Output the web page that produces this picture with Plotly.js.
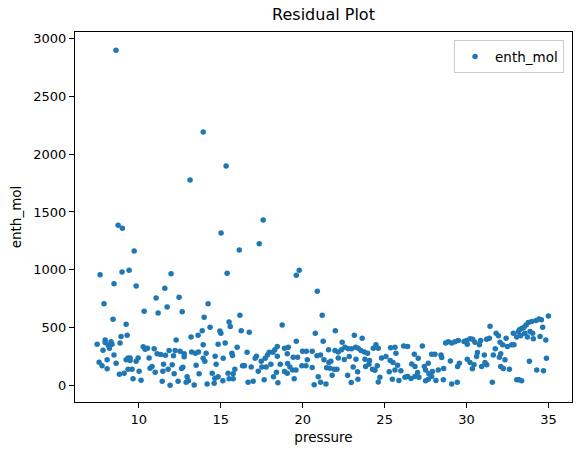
<!DOCTYPE html>
<html><head><meta charset="utf-8">
<script src="https://cdn.plot.ly/plotly-3.0.1.min.js"></script>
<style>html,body{margin:0;padding:0;background:#fff}</style>
</head><body><div id="chart" style="width:580px;height:455px"></div>
<script>
const seriesName = 'enth_mol';
const pressure = [
8.61,13.93,15.33,13.13,8.74,9.0,17.59,15.02,
9.72,7.64,8.98,9.41,11.97,8.49,9.84,11.59,11.06,12.46,7.88,11.73,10.33,11.18,12.65,13.99,8.43,9.23,
13.19,13.62,13.87,9.29,8.92,12.28,7.46,7.95,7.95,8.31,8.37,8.14,8.86,8.21,7.82,10.27,10.53,10.39,10.94,
11.12,11.34,11.63,11.85,12.12,12.22,12.52,12.77,12.77,13.22,13.46,13.64,13.50,13.93,13.93,8.49,8.07,
7.58,7.76,8.07,8.62,9.23,9.35,9.47,9.47,9.84,9.96,10.63,10.69,10.81,11.51,12.04,11.79,11.47,11.00,
12.16,12.61,12.69,12.95,13.03,12.89,12.40,13.38,13.68,9.35,9.59,10.02,8.82,9.11,9.65,10.14,11.43,11.91,
17.35,16.13,15.39,19.61,19.79,20.89,14.23,21.19,16.17,15.51,15.58,14.35,14.95,15.01,16.25,16.74,18.75,
19.61,20.77,21.25,14.84,15.27,16.00,14.11,14.03,14.66,15.15,15.68,15.72,14.72,16.61,17.10,17.18,17.47,
17.71,17.85,17.96,18.18,18.30,18.45,18.45,18.89,19.12,19.06,19.42,19.69,19.99,20.22,20.58,20.28,19.95,
20.20,20.58,20.87,21.09,21.30,21.46,21.58,21.60,16.33,16.45,16.86,17.29,17.51,17.77,18.06,18.63,19.08,
19.22,19.38,19.59,18.89,19.06,18.40,18.22,17.65,18.49,19.48,20.95,21.09,20.70,21.42,15.86,15.76,15.45,
15.51,15.76,15.13,14.84,14.64,14.48,14.60,14.17,16.67,16.98,
21.99,23.15,23.63,22.41,21.97,22.17,22.37,22.58,22.78,22.98,23.23,23.39,23.55,23.76,23.96,24.31,24.47,
24.61,22.17,22.54,22.84,23.25,23.80,24.08,21.72,21.66,21.92,21.80,22.09,22.74,23.08,23.35,23.37,22.96,
23.84,24.04,24.26,24.41,24.55,24.71,24.61,24.81,25.08,25.36,25.63,25.69,25.34,25.51,25.79,25.63,25.28,
25.99,25.47,25.87,26.24,26.16,26.40,26.81,27.05,27.30,26.65,26.85,26.40,26.61,26.85,27.01,27.09,27.42,
27.50,27.66,27.70,27.87,28.07,27.91,27.50,27.66,27.87,28.13,28.44,28.48,28.27,28.60,28.58,28.72,28.88,
29.09,29.01,29.09,
34.99,34.42,34.56,34.24,33.97,33.77,33.63,33.50,33.36,33.22,33.16,32.85,33.06,33.30,33.55,33.87,34.03,
34.07,33.71,34.48,34.64,34.83,34.87,33.83,34.28,34.69,33.20,33.36,33.06,31.43,31.80,31.94,32.04,32.20,
32.41,32.49,32.75,32.89,31.22,31.39,30.86,30.78,30.51,30.37,30.21,30.00,29.84,30.04,29.49,29.29,31.75,
30.66,30.61,31.08,31.63,32.08,32.00,32.34,30.04,30.21,30.45,30.35,30.92,31.12,31.23,29.56,29.45,32.08,
32.24,32.61,29.43,31.57
];
const enthMol = [
2900,2192,1898,1776,1386,1360,1430,1317,
1161,956,979,996,964,878,858,840,754,762,705,676,641,624,635,589,571,528,
416,433,471,433,421,392,355,390,369,375,355,345,364,320,303,332,320,312,315,
271,265,260,300,254,300,294,271,245,288,277,288,173,234,349,262,219,
199,167,141,190,219,236,236,213,208,236,236,147,161,182,176,138,121,112,
98,144,156,72,37,26,34,2,98,138,138,121,95,104,55,43,34,0,
1224,1170,970,953,996,814,704,606,606,548,508,502,468,450,471,459,520,
381,450,381,355,364,329,277,208,251,233,277,257,182,286,233,251,208,
233,262,286,286,306,335,251,320,329,271,242,242,294,294,294,219,167,
167,153,254,262,219,150,306,196,167,167,158,121,158,158,182,182,187,
158,132,132,118,103,112,72,46,20,55,72,26,3,11,138,98,104,
55,55,37,72,60,104,17,11,26,34,
471,433,407,372,300,288,306,329,315,315,329,320,300,288,277,320,349,
320,236,222,248,225,225,213,208,147,138,86,138,86,158,115,52,23,
161,182,138,130,167,69,28,236,248,323,329,277,213,196,173,132,115,
124,52,40,69,338,335,268,233,338,184,161,75,58,75,109,69,161,
132,190,98,268,268,118,37,52,75,40,262,239,132,144,46,364,375,
364,210,11,
598,572,566,560,551,543,522,502,491,479,462,450,416,427,450,465,450,
401,416,421,502,392,234,208,132,124,46,37,46,511,450,427,372,349,
407,335,349,349,398,407,387,349,372,398,401,387,378,355,387,375,315,
283,248,262,262,271,242,219,225,196,176,141,161,196,176,190,161,161,
144,138,26,26
];
const xTicks = [10, 15, 20, 25, 30, 35];
const yTicks = [0, 500, 1000, 1500, 2000, 2500, 3000];

const font = 'DejaVu Sans, sans-serif';
const trace = {
  type: 'scatter', mode: 'markers', name: seriesName,
  x: pressure, y: enthMol,
  marker: {color: '#1f77b4', size: 5.5, line: {width: 0}},
  showlegend: true
};
const axisBase = {
  showline: true, mirror: true, linecolor: '#000', linewidth: 1,
  ticks: 'outside', ticklen: 5, tickwidth: 1, tickcolor: '#000',
  showgrid: false, zeroline: false,
  tickfont: {family: font, size: 13, color: '#000'}
};
const layout = {
  width: 580, height: 455,
  margin: {l: 75, r: 8, t: 32, b: 53},
  paper_bgcolor: '#fff', plot_bgcolor: '#fff',
  font: {family: font, color: '#000'},
  title: {text: 'Residual Plot', font: {family: font, size: 16, color: '#000'},
          x: 0.5, xref: 'paper', y: 1 - 14/455, yref: 'container', yanchor: 'middle'},
  xaxis: Object.assign({}, axisBase, {
    range: [6.11, 36.43], tickvals: xTicks, ticktext: xTicks.map(String),
    title: {text: 'pressure', font: {family: font, size: 13.5, color: '#000'}, standoff: 6}
  }),
  yaxis: Object.assign({}, axisBase, {
    range: [-146, 3059], tickvals: yTicks, ticktext: yTicks.map(String),
    title: {text: 'enth_mol', font: {family: font, size: 13.5, color: '#000'}, standoff: 8}
  }),
  legend: {x: 0.984, y: 0.978, xanchor: 'right', yanchor: 'top',
           bordercolor: '#cccccc', borderwidth: 1, bgcolor: 'rgba(255,255,255,0.8)',
           font: {family: font, size: 13.5, color: '#000'}}
};
Plotly.newPlot('chart', [trace], layout, {displayModeBar: false, staticPlot: true});
</script></body></html>
